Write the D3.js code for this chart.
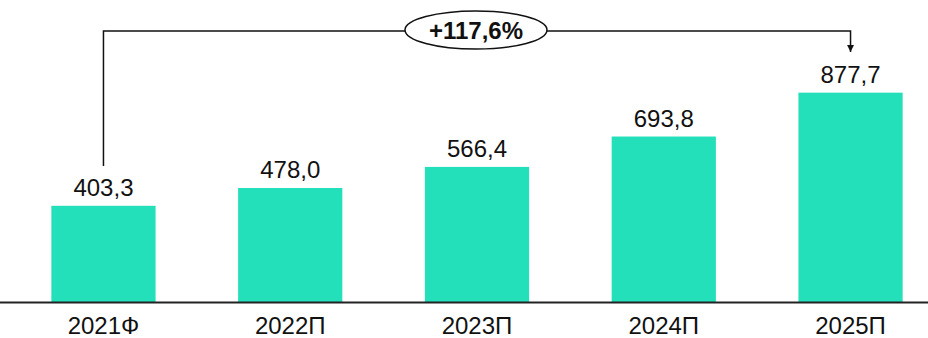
<!DOCTYPE html>
<html>
<head>
<meta charset="utf-8">
<script src="https://cdn.jsdelivr.net/npm/d3@7"></script>
<style>
  html, body { margin: 0; padding: 0; background: #fff; }
  svg { display: block; font-family: Arial, "Liberation Sans", sans-serif; }
</style>
</head>
<body>
<svg id="chart" width="928" height="338"></svg>
<script>
// data
const categories = ["2021Ф", "2022П", "2023П", "2024П", "2025П"];
const values = [403.3, 478.0, 566.4, 693.8, 877.7];
const growthLabel = "+117,6%";

const width = 928;
const height = 338;
const baseline = 302;

const svg = d3.select("#chart");

const x = d3.scaleBand()
  .domain(categories)
  .range([14, 940])
  .paddingInner(0.442)
  .paddingOuter(0.2);

const y = d3.scaleLinear()
  .domain([0, 1000])
  .range([baseline, baseline - 238.5]);

const fmt = v => d3.format(".1f")(v).replace(".", ",");

// bars
svg.append("g")
  .selectAll("rect")
  .data(values)
  .join("rect")
  .attr("x", (d, i) => x(categories[i]))
  .attr("y", d => y(d))
  .attr("width", x.bandwidth())
  .attr("height", d => y(0) - y(d))
  .attr("fill", "#23e0ba");

// value labels
svg.append("g")
  .selectAll("text")
  .data(values)
  .join("text")
  .attr("x", (d, i) => x(categories[i]) + x.bandwidth() / 2)
  .attr("y", d => y(d) - 10)
  .attr("text-anchor", "middle")
  .attr("font-size", 24)
  .attr("fill", "#111")
  .text(fmt);

// baseline
svg.append("line")
  .attr("x1", 0)
  .attr("x2", width)
  .attr("y1", baseline + 0.5)
  .attr("y2", baseline + 0.5)
  .attr("stroke", "#222")
  .attr("stroke-width", 2);

// category labels
svg.append("g")
  .selectAll("text")
  .data(categories)
  .join("text")
  .attr("x", d => x(d) + x.bandwidth() / 2)
  .attr("y", 334)
  .attr("text-anchor", "middle")
  .attr("font-size", 24)
  .attr("fill", "#111")
  .text(d => d);

// growth bracket from first to last bar
const xFirst = x(categories[0]) + x.bandwidth() / 2;
const xLast = x(categories[categories.length - 1]) + x.bandwidth() / 2;
const bracketY = 31;

svg.append("defs").append("marker")
  .attr("id", "arrow")
  .attr("viewBox", "0 -5 10 10")
  .attr("refX", 10)
  .attr("refY", 0)
  .attr("markerWidth", 7)
  .attr("markerHeight", 7)
  .attr("markerUnits", "userSpaceOnUse")
  .attr("orient", "auto")
  .append("path")
  .attr("d", "M0,-5L10,0L0,5Z")
  .attr("fill", "#111");

svg.append("path")
  .attr("d", `M${xFirst},166 V${bracketY} H${xLast} V52`)
  .attr("fill", "none")
  .attr("stroke", "#111")
  .attr("stroke-width", 1.5)
  .attr("marker-end", "url(#arrow)");

const cx = 476;
svg.append("ellipse")
  .attr("cx", cx)
  .attr("cy", 30)
  .attr("rx", 71)
  .attr("ry", 19)
  .attr("fill", "#fff")
  .attr("stroke", "#111")
  .attr("stroke-width", 1.5);

svg.append("text")
  .attr("x", cx)
  .attr("y", 38.5)
  .attr("text-anchor", "middle")
  .attr("font-size", 24)
  .attr("font-weight", "bold")
  .attr("fill", "#111")
  .text(growthLabel);
</script>
</body>
</html>
